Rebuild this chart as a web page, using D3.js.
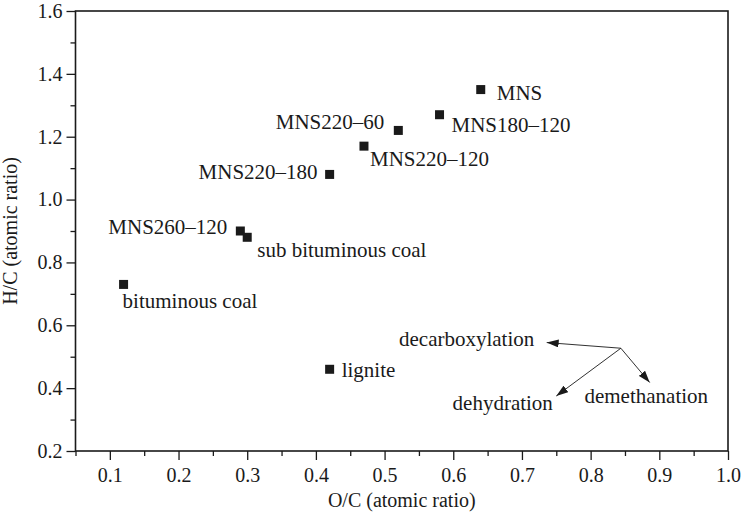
<!DOCTYPE html>
<html>
<head>
<meta charset="utf-8">
<script src="https://cdn.jsdelivr.net/npm/d3@7"></script>
<style>
  html, body { margin: 0; padding: 0; background: #fff; }
</style>
</head>
<body>
<svg id="chart" width="742" height="513"></svg>
<script>
// ---- data ----
const sampleNames = ["MNS", "MNS180\u2013120", "MNS220\u201360", "MNS220\u2013120", "MNS220\u2013180",
                     "MNS260\u2013120", "sub bituminous coal", "bituminous coal", "lignite"];
const ocValues = [0.64, 0.58, 0.52, 0.47, 0.42, 0.29, 0.30, 0.12, 0.42];
const hcValues = [1.35, 1.27, 1.22, 1.17, 1.08, 0.90, 0.88, 0.73, 0.46];

const xTicks = [0.1, 0.2, 0.3, 0.4, 0.5, 0.6, 0.7, 0.8, 0.9, 1.0];
const xMinorTicks = [0.05, 0.15, 0.25, 0.35, 0.45, 0.55, 0.65, 0.75, 0.85, 0.95];
const yTicks = [0.2, 0.4, 0.6, 0.8, 1.0, 1.2, 1.4, 1.6];
const yMinorTicks = [0.3, 0.5, 0.7, 0.9, 1.1, 1.3, 1.5];

// reaction pathway arrows (data coords): origin and end points
const arrowOrigin = [0.844, 0.527];
const arrowNames = ["decarboxylation", "dehydration", "demethanation"];
const arrowEndX = [0.736, 0.750, 0.886];
const arrowEndY = [0.545, 0.375, 0.418];
const arrowLabelX = [0.521, 0.599, 0.791];
const arrowLabelY = [0.534, 0.330, 0.352];

// ---- layout (label placement relative to point, px) ----
const labelLayout = [
  {anchor: "start", dx: 16, dy: 10},
  {anchor: "start", dx: 12, dy: 17},
  {anchor: "end",   dx: -14, dy: -1},
  {anchor: "start", dx: 6,  dy: 20},
  {anchor: "end",   dx: -12, dy: 5},
  {anchor: "end",   dx: -13, dy: 3},
  {anchor: "start", dx: 10, dy: 20},
  {anchor: "start", dx: -1, dy: 24},
  {anchor: "start", dx: 12, dy: 8}
];

const FONT = '"Liberation Serif"';
const svg = d3.select("#chart");
const mLeft = 75.5, mRight = 728, mTop = 11, mBottom = 451;

const x = d3.scaleLinear().domain([0.05, 1.0]).range([mLeft, mRight]);
const y = d3.scaleLinear().domain([0.2, 1.6]).range([mBottom, mTop]);

const ink = "#1a1a1a";

// minor ticks
svg.append("g").attr("transform", `translate(0,${mBottom})`)
  .call(d3.axisBottom(x).tickValues(xMinorTicks).tickSize(5).tickFormat(""))
  .call(g => g.select(".domain").remove())
  .call(g => g.selectAll("line").attr("stroke", ink).attr("stroke-width", 1.3));
svg.append("g").attr("transform", `translate(${mLeft},0)`)
  .call(d3.axisLeft(y).tickValues(yMinorTicks).tickSize(5).tickFormat(""))
  .call(g => g.select(".domain").remove())
  .call(g => g.selectAll("line").attr("stroke", ink).attr("stroke-width", 1.3));

// major axes
const xAxis = svg.append("g").attr("transform", `translate(0,${mBottom})`)
  .call(d3.axisBottom(x).tickValues(xTicks).tickSize(9).tickSizeOuter(0).tickPadding(8).tickFormat(d3.format(".1f")));
const yAxis = svg.append("g").attr("transform", `translate(${mLeft},0)`)
  .call(d3.axisLeft(y).tickValues(yTicks).tickSize(9).tickSizeOuter(0).tickPadding(4).tickFormat(d3.format(".1f")));
[xAxis, yAxis].forEach(g => {
  g.select(".domain").remove();
  g.selectAll("line").attr("stroke", ink).attr("stroke-width", 1.3);
  g.selectAll("text").attr("fill", ink).style("font-family", FONT).style("font-size", "20px");
});

// frame
svg.append("rect")
  .attr("x", mLeft).attr("y", mTop)
  .attr("width", mRight - mLeft).attr("height", mBottom - mTop)
  .attr("fill", "none").attr("stroke", ink).attr("stroke-width", 1.6);

// axis titles
svg.append("text").attr("x", (mLeft + mRight) / 2).attr("y", 507)
  .attr("text-anchor", "middle").attr("fill", ink)
  .style("font-family", FONT).style("font-size", "20px")
  .text("O/C (atomic ratio)");
svg.append("text")
  .attr("transform", `translate(17,${(mTop + mBottom) / 2}) rotate(-90)`)
  .attr("text-anchor", "middle").attr("fill", ink)
  .style("font-family", FONT).style("font-size", "20px")
  .text("H/C (atomic ratio)");

// points
const pts = sampleNames.map((n, i) => ({name: n, oc: ocValues[i], hc: hcValues[i], lay: labelLayout[i]}));
const sq = 9;
svg.append("g").selectAll("rect").data(pts).join("rect")
  .attr("x", d => x(d.oc) - sq / 2).attr("y", d => y(d.hc) - sq / 2)
  .attr("width", sq).attr("height", sq).attr("fill", ink);

svg.append("g").selectAll("text").data(pts).join("text")
  .attr("x", d => x(d.oc) + d.lay.dx).attr("y", d => y(d.hc) + d.lay.dy)
  .attr("text-anchor", d => d.lay.anchor)
  .attr("fill", ink).style("font-family", FONT).style("font-size", "21px")
  .text(d => d.name);

// arrows
const defs = svg.append("defs");
defs.append("marker").attr("id", "ah")
  .attr("viewBox", "0 0 12 8").attr("refX", 12).attr("refY", 4)
  .attr("markerWidth", 12).attr("markerHeight", 8)
  .attr("markerUnits", "userSpaceOnUse").attr("orient", "auto")
  .append("path").attr("d", "M0,0 L12,4 L0,8 Z").attr("fill", ink);

svg.append("g").selectAll("line").data(arrowNames).join("line")
  .attr("x1", x(arrowOrigin[0])).attr("y1", y(arrowOrigin[1]))
  .attr("x2", (d, i) => x(arrowEndX[i])).attr("y2", (d, i) => y(arrowEndY[i]))
  .attr("stroke", ink).attr("stroke-width", 0.9)
  .attr("marker-end", "url(#ah)");

svg.append("g").selectAll("text").data(arrowNames).join("text")
  .attr("x", (d, i) => x(arrowLabelX[i])).attr("y", (d, i) => y(arrowLabelY[i]))
  .attr("fill", ink).style("font-family", FONT).style("font-size", "21px")
  .text(d => d);
</script>
</body>
</html>
